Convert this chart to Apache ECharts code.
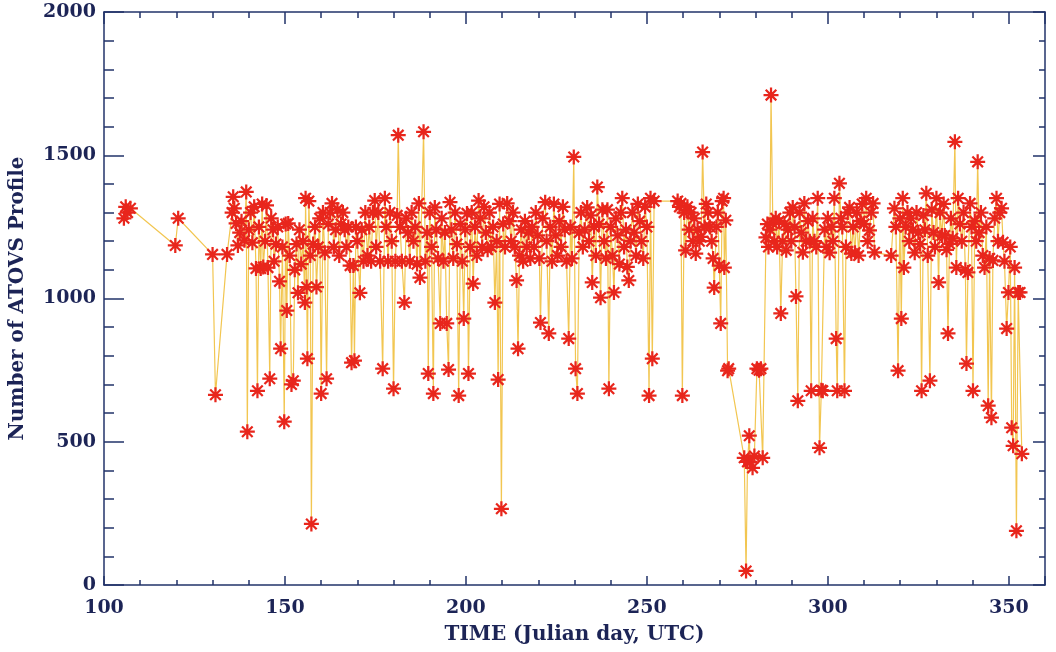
<!DOCTYPE html>
<html>
<head>
<meta charset="utf-8">
<title>ATOVS profiles</title>
<script src="https://cdn.jsdelivr.net/npm/echarts@6/dist/echarts.min.js"></script>
<style>
  html, body { margin: 0; padding: 0; background: #ffffff; }
  #chart { width: 1056px; height: 652px; }
</style>
</head>
<body>
<div id="chart"></div>
<script>
// julian day of each retrieval pass, and number of ATOVS profiles in it
const days = [
  105.5, 106, 106.5, 107.3, 119.7, 120.5, 130, 130.8, 134, 135.4, 135.7, 136, 136.5, 137, 137.5, 138, 138.8, 139.3, 139.6, 140,
  140.5, 141, 141.5, 142, 142.4, 142.8, 143.3, 143.7, 144, 144.5, 144.9, 145.3, 145.8, 146.2, 146.7, 147, 147.5, 148, 148.5, 148.8,
  149.3, 149.8, 150.2, 150.5, 150.9, 151.3, 151.8, 152.3, 152.7, 153.2, 153.6, 154, 154.5, 155, 155.5, 155.7, 156, 156.2, 156.6, 157,
  157.3, 157.8, 158.3, 158.7, 159.2, 159.6, 160, 160.5, 161, 161.5, 162, 162.5, 163, 163.5, 164, 164.5, 165, 165.5, 166, 166.5,
  167, 167.5, 168, 168.4, 168.9, 169.2, 169.6, 170, 170.7, 171.2, 171.7, 172.2, 172.8, 173.3, 173.8, 174.3, 174.8, 175.2, 175.8, 176.3,
  177, 177.6, 178, 178.5, 179, 179.5, 180, 180.5, 181, 181.3, 181.8, 182.3, 183, 183.5, 184, 184.5, 185, 185.5, 186, 186.5,
  187, 187.3, 188.3, 188.8, 189.3, 189.6, 190, 190.5, 191, 191.4, 191.8, 192.3, 192.9, 193.3, 193.8, 194.2, 194.7, 195.2, 195.6, 196,
  196.5, 197, 197.5, 198, 198.5, 199, 199.4, 199.8, 200.3, 200.7, 201.2, 201.6, 202, 202.5, 203, 203.5, 204, 204.5, 205, 205.5,
  206, 206.5, 207, 207.5, 208, 208.5, 208.9, 209.3, 209.8, 210.3, 210.8, 211.4, 212, 212.5, 213, 213.5, 214, 214.4, 214.8, 215.3,
  215.8, 216.3, 216.8, 217.3, 217.8, 218.3, 218.8, 219.3, 219.8, 220.3, 220.6, 221.2, 221.9, 222.3, 222.9, 223.3, 223.8, 224.3, 224.8, 225.3,
  225.8, 226.3, 226.8, 227.3, 227.8, 228.4, 228.9, 229.3, 229.8, 230.3, 230.8, 231.3, 231.8, 232.3, 232.8, 233.5, 234, 234.5, 234.9, 235.4,
  235.9, 236.3, 236.8, 237.2, 237.7, 238.2, 238.7, 239.1, 239.5, 240, 240.5, 240.9, 241.4, 241.9, 242.4, 242.8, 243.2, 243.7, 244.2, 244.6,
  245, 245.5, 246, 246.5, 247, 247.5, 248, 248.5, 249, 249.5, 250, 250.6, 251, 251.5, 252, 258.5, 259, 259.4, 259.8, 260.3,
  260.7, 261.2, 261.7, 262.2, 262.7, 263.1, 263.5, 264, 264.5, 265, 265.4, 265.9, 266.4, 266.9, 267.4, 267.9, 268.3, 268.6, 269.2, 269.6,
  270, 270.4, 270.8, 271.2, 271.4, 271.8, 272.3, 272.6, 276.9, 277.4, 277.8, 278.3, 278.5, 279.2, 279.7, 280.4, 281, 281.5, 282, 282.9,
  283.3, 283.6, 284, 284.3, 284.8, 285.2, 285.6, 286, 286.5, 287, 287.5, 288, 288.5, 289, 289.5, 289.9, 290.3, 290.8, 291.2, 291.7,
  292.2, 292.7, 293.1, 293.5, 294, 294.5, 295, 295.4, 295.8, 296.3, 296.8, 297.2, 297.7, 298.2, 298.6, 299.1, 299.6, 300, 300.5, 301,
  301.4, 301.8, 302.3, 302.6, 303.2, 303.6, 304, 304.6, 305, 305.5, 306, 306.5, 307, 307.5, 308, 308.5, 309, 309.5, 310, 310.6,
  311, 311.5, 312, 312.5, 312.9, 317.5, 318.4, 318.8, 319.4, 319.9, 320.3, 320.7, 321, 321.5, 322, 322.5, 323, 323.5, 324, 324.5,
  325, 325.5, 325.9, 326.4, 326.8, 327.2, 327.6, 328.2, 328.7, 329.2, 329.6, 330, 330.6, 331, 331.5, 332, 332.3, 332.8, 333.2, 333.6,
  334, 334.5, 335.1, 335.5, 336, 336.5, 337, 337.5, 338, 338.3, 338.7, 339.3, 339.7, 340.1, 340.6, 341, 341.4, 341.8, 342.3, 342.8,
  343.3, 343.8, 344.3, 344.7, 345.2, 345.6, 346.1, 346.6, 347, 347.5, 348, 348.4, 348.8, 349.4, 349.9, 350.4, 350.8, 351.2, 351.6, 352.1,
  352.6, 353.1, 353.6
];
const profiles = [
  1280, 1320, 1300, 1315, 1185, 1280, 1154, 664, 1154, 1300, 1355, 1315, 1262, 1185, 1230, 1270, 1203, 1372, 535, 1240,
  1300, 1195, 1320, 1105, 678, 1250, 1105, 1330, 1110, 1200, 1325, 1108, 720, 1280, 1240, 1130, 1190, 1250, 1060, 825,
  1180, 570, 1260, 958, 1262, 1150, 700, 713, 1100, 1190, 1020, 1240, 1120, 1200, 986, 1350, 1040, 790, 1340, 1150,
  213, 1190, 1250, 1040, 1180, 1280, 668, 1300, 1160, 720, 1260, 1300, 1332, 1180, 1240, 1310, 1150, 1260, 1300, 1240,
  1180, 1250, 1115, 776, 1115, 783, 1250, 1200, 1020, 1240, 1130, 1300, 1150, 1250, 1130, 1300, 1342, 1180, 1300, 1130,
  755, 1350, 1250, 1130, 1300, 1200, 685, 1130, 1290, 1570, 1250, 1130, 986, 1280, 1230, 1130, 1300, 1200, 1250, 1120,
  1332, 1073, 1582, 1130, 1230, 738, 1300, 1180, 668, 1318, 1240, 1140, 913, 1280, 1130, 1230, 913, 752, 1336, 1240,
  1140, 1300, 1190, 661, 1260, 1130, 930, 1240, 1297, 738, 1180, 1300, 1052, 1250, 1150, 1342, 1280, 1180, 1320, 1230,
  1170, 1300, 1180, 1250, 986, 1200, 717, 1330, 266, 1260, 1180, 1332, 1270, 1200, 1300, 1180, 1063, 825, 1150, 1240,
  1130, 1270, 1180, 1230, 1140, 1250, 1180, 1300, 1220, 1140, 916, 1280, 1336, 1200, 878, 1250, 1130, 1330, 1220, 1150,
  1270, 1180, 1320, 1240, 1130, 860, 1250, 1140, 1494, 755, 668, 1230, 1300, 1180, 1240, 1318, 1200, 1290, 1056, 1250,
  1150, 1389, 1260, 1003, 1310, 1200, 1140, 1310, 685, 1250, 1150, 1021, 1280, 1220, 1120, 1300, 1350, 1180, 1240, 1110,
  1063, 1200, 1300, 1230, 1150, 1330, 1270, 1200, 1140, 1320, 1250, 661, 1350, 790, 1340, 1340, 1320, 1332, 661, 1300,
  1168, 1320, 1240, 1300, 1200, 1280, 1157, 1240, 1200, 1215, 1511, 1250, 1330, 1300, 1250, 1200, 1140, 1038, 1250, 1300,
  1115, 913, 1340, 1350, 1108, 1273, 748, 755, 444, 49, 430, 521, 430, 409, 450, 755, 750, 755, 444, 1213,
  1260, 1180, 1240, 1710, 1262, 1200, 1280, 1180, 1270, 948, 1200, 1260, 1168, 1240, 1300, 1200, 1318, 1250, 1007, 643,
  1300, 1230, 1161, 1332, 1200, 1270, 1200, 678, 1280, 1200, 1180, 1350, 479, 680, 678, 1240, 1180, 1280, 1160, 1250,
  1200, 1350, 860, 678, 1402, 1280, 1250, 678, 1180, 1300, 1318, 1157, 1250, 1160, 1300, 1150, 1270, 1330, 1260, 1350,
  1200, 1238, 1300, 1332, 1161, 1150, 1315, 1250, 748, 1280, 930, 1350, 1108, 1250, 1300, 1200, 1280, 1240, 1160, 1300,
  1230, 1190, 678, 1290, 1240, 1367, 1150, 713, 1310, 1230, 1180, 1350, 1056, 1300, 1220, 1330, 1220, 1170, 878, 1191,
  1280, 1210, 1547, 1108, 1350, 1260, 1200, 1300, 1100, 773, 1091, 1332, 1250, 678, 1270, 1200, 1477, 1230, 1300, 1150,
  1108, 1250, 626, 1140, 584, 1133, 1280, 1350, 1200, 1300, 1315, 1196, 1130, 895, 1021, 1180, 549, 486, 1108, 189,
  1021, 1021, 458
];
const xTicks = [100, 150, 200, 250, 300, 350];
const yTicks = [0, 500, 1000, 1500, 2000];

const axisColor = '#22336a';
const textColor = '#1c2456';
const fontFamily = '"DejaVu Serif", "Liberation Serif", serif';

// IDL style asterisk (psym=2): four crossing bars
const asterisk = 'path://M0 8.5L20 8.5L20 11.5L0 11.5Z M8.5 0L11.5 0L11.5 20L8.5 20Z ' +
  'M1.9 4L4 1.9L18.1 16L16 18.1Z M16 1.9L18.1 4L4 18.1L1.9 16Z';

const points = days.map((d, i) => [d, profiles[i]]);

const chart = echarts.init(document.getElementById('chart'));

const baseX = {
  type: 'value',
  min: xTicks[0],
  max: 360,
  interval: 50,
  splitLine: { show: false },
  axisLine: { show: true, onZero: false, lineStyle: { color: axisColor, width: 1.5 } }
};
const baseY = {
  type: 'value',
  min: yTicks[0],
  max: yTicks[yTicks.length - 1],
  interval: 500,
  splitLine: { show: false },
  axisLine: { show: true, onZero: false, lineStyle: { color: axisColor, width: 1.5 } }
};

chart.setOption({
  animation: false,
  backgroundColor: '#ffffff',
  grid: { left: 103, right: 11, top: 12, bottom: 67 },
  xAxis: [
    Object.assign({}, baseX, {
      position: 'bottom',
      name: 'TIME (Julian day, UTC)',
      nameLocation: 'middle',
      nameGap: 40,
      nameTextStyle: { color: textColor, fontFamily, fontSize: 20, fontWeight: 'bold' },
      axisTick: { inside: true, length: 9, lineStyle: { color: axisColor, width: 1.5 } },
      minorTick: { show: true, splitNumber: 5, length: 5, lineStyle: { color: axisColor, width: 1.5 } },
      axisLabel: {
        color: textColor, fontFamily, fontSize: 19, fontWeight: 'bold', margin: 14,
        showMaxLabel: false,
        formatter: v => (xTicks.includes(v) ? String(v) : '')
      }
    }),
    Object.assign({}, baseX, {
      position: 'top',
      axisTick: { inside: true, length: 12, lineStyle: { color: axisColor, width: 1.5 } },
      minorTick: { show: true, splitNumber: 5, length: 6, lineStyle: { color: axisColor, width: 1.5 } },
      axisLabel: { show: false }
    })
  ],
  yAxis: [
    Object.assign({}, baseY, {
      position: 'left',
      name: 'Number of ATOVS Profile',
      nameLocation: 'middle',
      nameGap: 76,
      nameTextStyle: { color: textColor, fontFamily, fontSize: 20, fontWeight: 'bold' },
      axisTick: { inside: true, length: 20, lineStyle: { color: axisColor, width: 1.5 } },
      minorTick: { show: true, splitNumber: 5, length: 10, lineStyle: { color: axisColor, width: 1.5 } },
      axisLabel: {
        color: textColor, fontFamily, fontSize: 19, fontWeight: 'bold', margin: 8,
        formatter: v => String(v)
      }
    }),
    Object.assign({}, baseY, {
      position: 'right',
      axisTick: { inside: true, length: 12, lineStyle: { color: axisColor, width: 1.5 } },
      minorTick: { show: true, splitNumber: 5, length: 6, lineStyle: { color: axisColor, width: 1.5 } },
      axisLabel: { show: false }
    })
  ],
  series: [
    {
      type: 'line',
      xAxisIndex: 0,
      yAxisIndex: 0,
      data: points,
      showSymbol: true,
      symbol: asterisk,
      symbolSize: 15,
      itemStyle: { color: '#e8261c' },
      lineStyle: { color: '#f2c651', width: 1.2 },
      z: 2
    }
  ]
});
</script>
</body>
</html>
